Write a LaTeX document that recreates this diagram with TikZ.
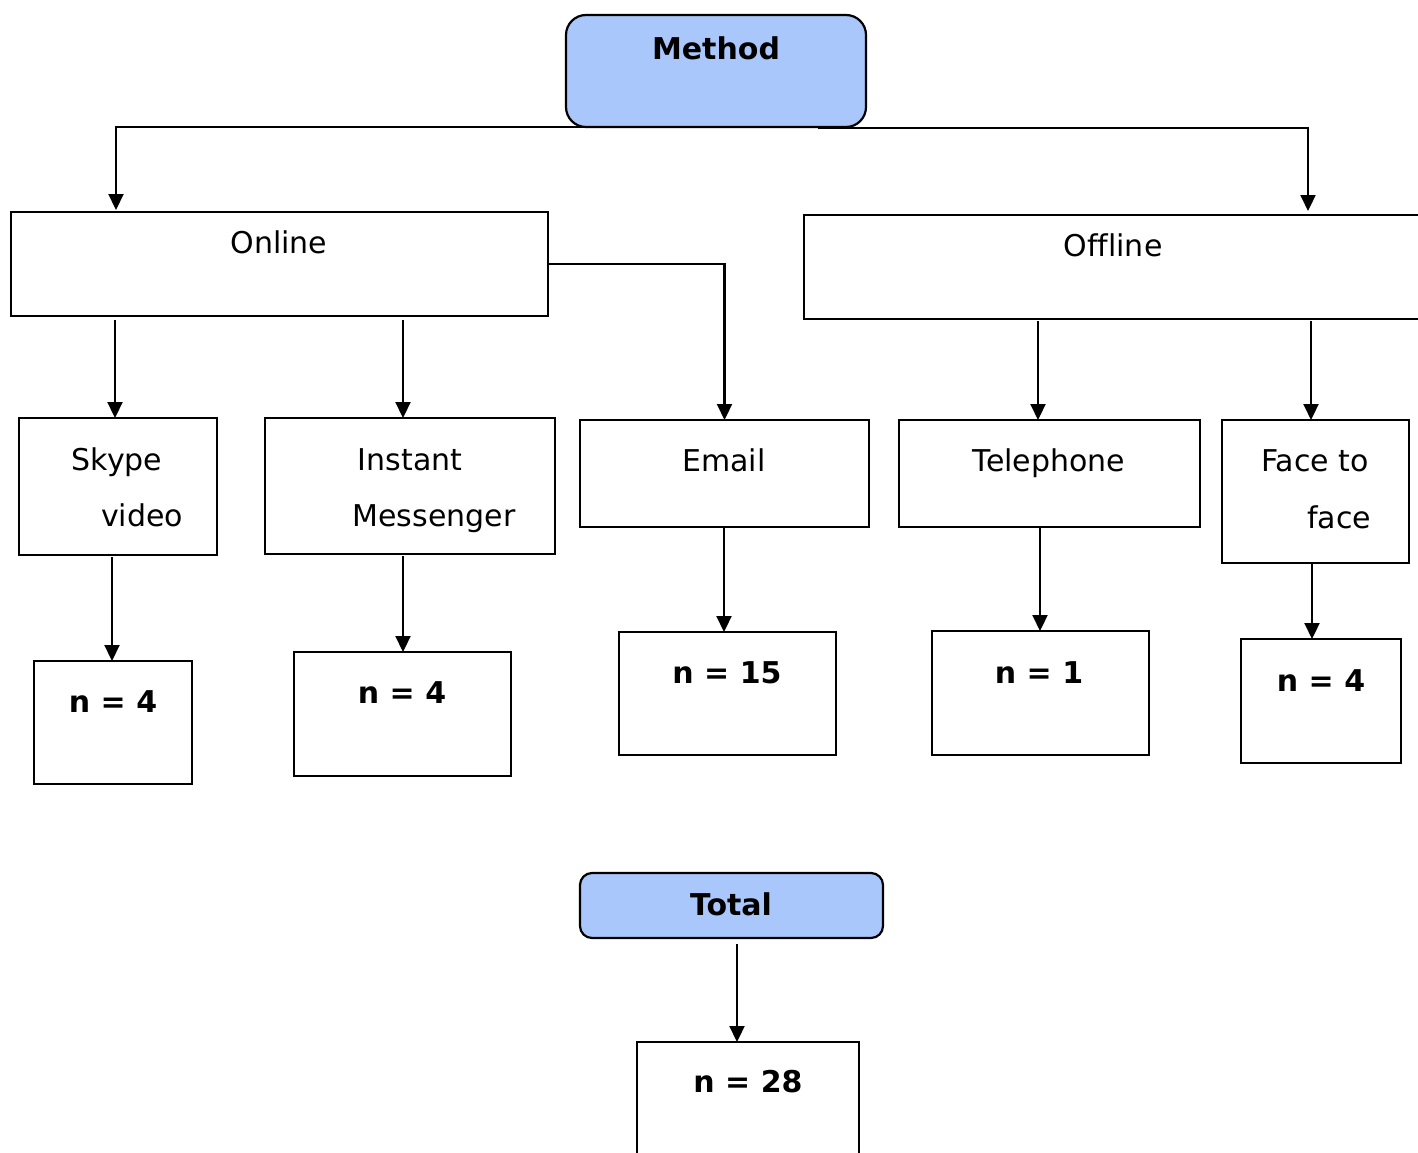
\documentclass[tikz,border=0pt]{standalone}
\usepackage{fontspec}
\setmainfont[Ligatures=NoCommon]{DejaVu Sans}
\usetikzlibrary{arrows.meta}
\definecolor{headblue}{HTML}{A9C7FB}
\tikzset{
  box/.style={draw=black, line width=2.2pt, fill=white, inner sep=0pt, outer sep=0pt},
  headbox/.style={box, fill=headblue, rounded corners=#1},
  txt/.style={anchor=base, inner sep=0pt, font=\fontsize{30}{36}\selectfont},
  btxt/.style={txt, font=\fontsize{30}{36}\selectfont\bfseries},
  arr/.style={line width=2.2pt, -{Triangle[width=15pt,length=16pt]}},
}
\begin{document}
\begin{tikzpicture}[x=1pt,y=-1pt]
\useasboundingbox (0,0) rectangle (1418,1153);
\clip (0,0) rectangle (1418,1153);

% boxes
\node[headbox=20pt, minimum width=300pt, minimum height=112pt] (method) at (716,71) {};
\node[box, minimum width=537pt, minimum height=104pt] (online) at (279.5,264) {};
\node[box, minimum width=636pt, minimum height=104pt] (offline) at (1122,267) {};
\node[box, minimum width=198pt, minimum height=137pt] (skype) at (118,486.5) {};
\node[box, minimum width=290pt, minimum height=136pt] (im) at (410,486) {};
\node[box, minimum width=289pt, minimum height=107pt] (email) at (724.5,473.5) {};
\node[box, minimum width=301pt, minimum height=107pt] (tel) at (1049.5,473.5) {};
\node[box, minimum width=187pt, minimum height=143pt] (face) at (1315.5,491.5) {};
\node[box, minimum width=158pt, minimum height=123pt] (nskype) at (113,722.5) {};
\node[box, minimum width=217pt, minimum height=124pt] (nim) at (402.5,714) {};
\node[box, minimum width=217pt, minimum height=123pt] (nemail) at (727.5,693.5) {};
\node[box, minimum width=217pt, minimum height=124pt] (ntel) at (1040.5,693) {};
\node[box, minimum width=160pt, minimum height=124pt] (nface) at (1321,701) {};
\node[headbox=12pt, minimum width=303pt, minimum height=65pt] (total) at (731.5,905.5) {};
\node[box, minimum width=222pt, minimum height=138pt] (ntotal) at (748,1111) {};

% labels
\node[btxt] (tmethod) at (716,60) {Method};
\node[txt] (tonline) at (279,253) {Online};
\node[txt] (toffline) at (1113,256) {Offline};
\node[txt] (tskype) at (117,470) {Skype};
\node[txt] (tvideo) at (142,526) {video};
\node[txt] (tinstant) at (410,470) {Instant};
\node[txt] (tmessenger) at (434,526) {Messenger};
\node[txt] (temail) at (724,471) {Email};
\node[txt] (ttel) at (1049,471) {Telephone};
\node[txt] (tfaceto) at (1315,471) {Face to};
\node[txt] (tface) at (1339,528) {face};
\node[btxt] (tnskype) at (113,712) {n = 4};
\node[btxt] (tnim) at (402,703) {n = 4};
\node[btxt] (tnemail) at (727,683) {n = 15};
\node[btxt] (tntel) at (1039,683) {n = 1};
\node[btxt] (tnface) at (1321,691) {n = 4};
\node[btxt] (ttotal) at (731,915) {Total};
\node[btxt] (tntotal) at (748,1092) {n = 28};

% connectors from the method box
\draw[arr, shorten >=2pt] ([xshift=-111pt]method.south) -| ([xshift=-163.5pt]online.north);
\draw[arr, shorten >=4pt] ([xshift=102pt,yshift=-1pt]method.south) -| ([xshift=186pt]offline.north);

% online branch
\draw[arr] ([xshift=-164.5pt,yshift=-4pt]online.south) -- ([xshift=-3pt]skype.north);
\draw[arr] ([xshift=123.5pt,yshift=-4pt]online.south) -- ([xshift=-7pt]im.north);
\draw[arr] (online.east) -| (email.north);

% offline branch
\draw[arr] ([xshift=-84pt,yshift=-2pt]offline.south) -- ([xshift=-11.5pt]tel.north);
\draw[arr] ([xshift=189pt,yshift=-2pt]offline.south) -- ([xshift=-4.5pt]face.north);

% counts
\draw[arr] ([xshift=-6pt,yshift=-2pt]skype.south) -- ([xshift=-1pt]nskype.north);
\draw[arr] ([xshift=-7pt,yshift=-2pt]im.south) -- ([xshift=0.5pt]nim.north);
\draw[arr] ([xshift=-0.5pt,yshift=-1pt]email.south) -- ([xshift=-3.5pt]nemail.north);
\draw[arr] ([xshift=-9.5pt,yshift=-1pt]tel.south) -- ([xshift=-0.5pt]ntel.north);
\draw[arr] ([xshift=-3.5pt,yshift=-1pt]face.south) -- ([xshift=-9pt]nface.north);
\draw[arr] ([xshift=5.5pt,yshift=-6pt]total.south) -- ([xshift=-11pt]ntotal.north);
\end{tikzpicture}
\end{document}
